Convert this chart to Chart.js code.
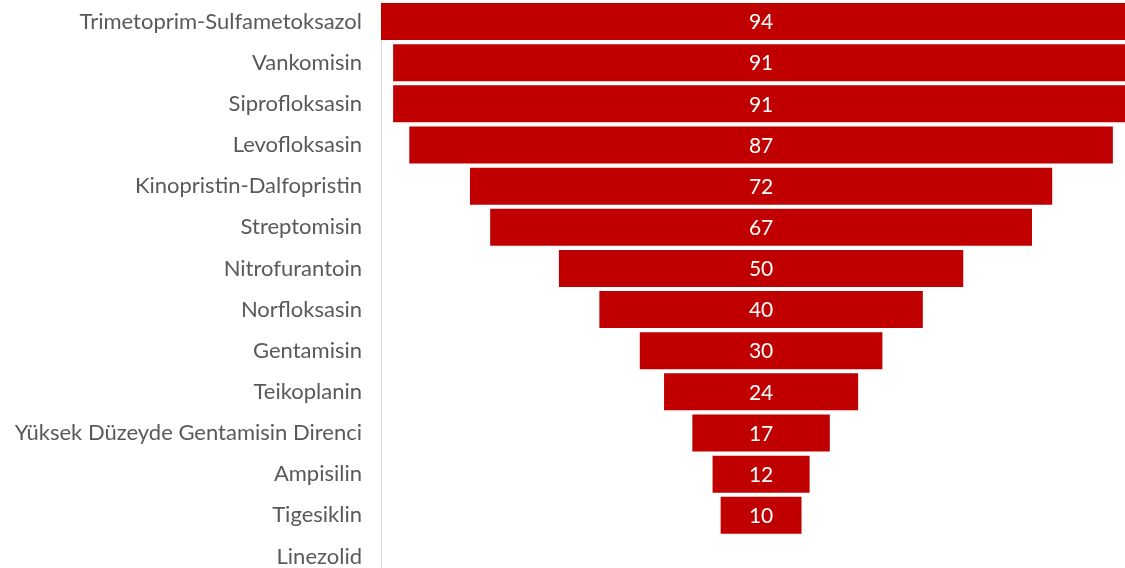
<!DOCTYPE html>
<html>
<head>
<meta charset="utf-8">
<script src="https://cdn.jsdelivr.net/npm/chart.js@4"></script>
<style>
  html, body { margin: 0; padding: 0; background: #fff; overflow: hidden; }
</style>
</head>
<body>
<canvas id="funnel" width="1125" height="577"></canvas>
<script>
// funnel: each bar is centred on zero, right side runs off the picture
var categories = [
  'Trimetoprim-Sulfametoksazol',
  'Vankomisin',
  'Siprofloksasin',
  'Levofloksasin',
  'Kinopristin-Dalfopristin',
  'Streptomisin',
  'Nitrofurantoin',
  'Norfloksasin',
  'Gentamisin',
  'Teikoplanin',
  'Yüksek Düzeyde Gentamisin Direnci',
  'Ampisilin',
  'Tigesiklin',
  'Linezolid'
];
var values = [94, 91, 91, 87, 72, 67, 50, 40, 30, 24, 17, 12, 10, 0];

var FONT = 'Lato, "Open Sans", sans-serif';

var valueLabels = {
  id: 'valueLabels',
  afterDatasetsDraw: function (chart) {
    var ctx = chart.ctx;
    var meta = chart.getDatasetMeta(0);
    ctx.save();
    ctx.fillStyle = '#ffffff';
    ctx.font = '21px ' + FONT;
    ctx.textAlign = 'center';
    ctx.textBaseline = 'middle';
    meta.data.forEach(function (bar, i) {
      if (!values[i]) return;
      ctx.fillText(String(values[i]), (bar.x + bar.base) / 2, bar.y + 1);
    });
    ctx.restore();
  }
};

new Chart(document.getElementById('funnel'), {
  type: 'bar',
  data: {
    labels: categories,
    datasets: [{
      data: values.map(function (v) { return [-v / 2, v / 2]; }),
      backgroundColor: '#c00000',
      borderWidth: 0,
      barPercentage: 0.9,
      categoryPercentage: 1.0
    }]
  },
  options: {
    indexAxis: 'y',
    responsive: false,
    animation: false,
    layout: { padding: { top: 1, right: 0, bottom: 0, left: 0 } },
    plugins: { legend: { display: false }, tooltip: { enabled: false } },
    scales: {
      x: {
        display: false,
        min: -47,
        max: 45
      },
      y: {
        grid: { display: false, drawTicks: false },
        border: { display: true, color: '#d9d9d9', width: 1 },
        ticks: {
          color: '#595959',
          font: { family: FONT, size: 22 },
          padding: 19
        },
        afterFit: function (scale) {
          scale.width = 381;
          scale.paddingTop = 0;
          scale.paddingBottom = 0;
        }
      }
    }
  },
  plugins: [valueLabels]
});
</script>
</body>
</html>
